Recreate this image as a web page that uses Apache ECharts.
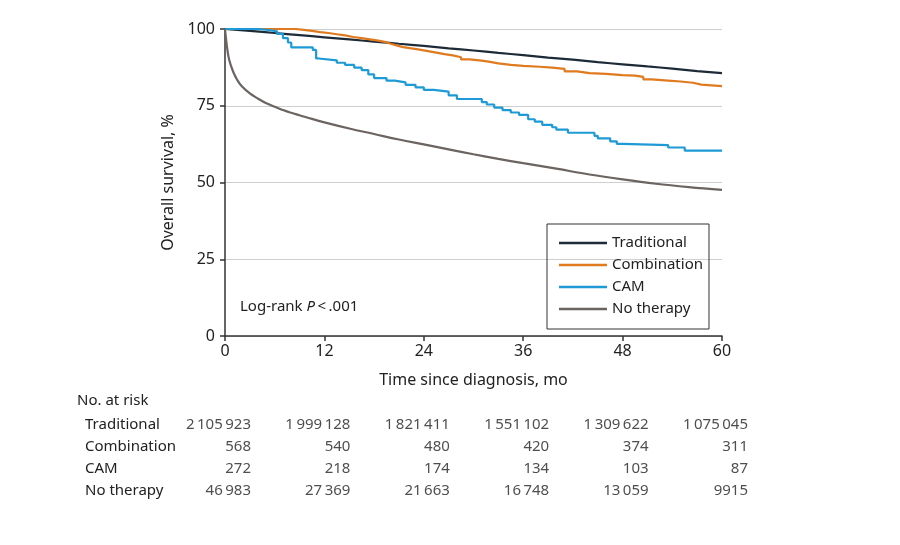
<!DOCTYPE html>
<html>
<head>
<meta charset="utf-8">
<script src="https://cdn.jsdelivr.net/npm/echarts@6/dist/echarts.min.js"></script>
<style>
  html, body { margin: 0; padding: 0; background: #fff; }
  #chart { width: 900px; height: 545px; }
</style>
</head>
<body>
<div id="chart"></div>
<script>
// survival curves, [month, percent]
const traditional = [[0,100],[3,99.4],[6,98.7],[9,98.0],[12,97.3],[15,96.6],[18,95.9],[21,95.2],[24,94.5],[27,93.7],[30,93.0],[33,92.2],[36,91.5],[39,90.7],[42,90.0],[45,89.2],[48,88.5],[51,87.8],[54,87.1],[57,86.3],[60,85.6]]
const combination = [[0,100],[7.5,100],[8.5,99.7],[9.5,99.4],[10.5,99],[11.5,98.7],[12.5,98.3],[13.5,97.9],[14.5,97.4],[15.5,97],[16.5,96.6],[17.5,96.2],[18.5,95.8],[19.3,95.2],[20,94.6],[20.8,94.1],[21.5,93.7],[22.5,93.3],[23.5,92.8],[24.5,92.3],[25.5,91.8],[26.5,91.4],[27.5,90.8],[28.5,90.1],[29.5,89.7],[31,89.3],[32,88.8],[33,88.3],[34.5,88],[36,87.7],[38,87.4],[39.5,87],[41,86.2],[42.5,85.6],[44,85.4],[46,85],[48,84.8],[49.5,84.4],[50.5,83.6],[51.5,83.2],[53.5,82.9],[55,82.5],[56.5,81.9],[57.5,81.4],[60,81.2]]
const cam = [[0,100],[4,99.6],[5.5,99.2],[6.3,98.4],[7,97],[7.6,95.6],[8,94],[10.6,93.2],[11,90.4],[11.3,89.8],[13.5,89],[14.5,88.3],[15.6,87.4],[16.5,86.6],[17.3,85.2],[18,84],[19.5,83.2],[20.5,82.6],[21.8,81.8],[23,81],[24,80.2],[25.2,79.6],[27,78.4],[28,77.2],[31,76.2],[31.6,75.4],[32.5,74.4],[33.5,73.6],[34.5,72.8],[35.5,72],[36.6,70.6],[37.4,69.8],[38.3,68.8],[39.5,68],[40,67.2],[41.4,66.2],[44.6,65.2],[45,64.4],[46.5,63.4],[47.3,62.6],[48,62.2],[53.5,61.4],[55.5,60.4],[60,60.4]]
const noTherapy = [[0,100],[0.25,94],[0.5,90],[1,86],[1.5,83.3],[2,81.4],[3,79],[4,77.3],[5,75.8],[6,74.7],[7,73.6],[8,72.7],[9,71.9],[10,71.1],[12,69.6],[15,67.6],[18,65.8],[21,64.0],[24,62.4],[27,60.8],[30,59.2],[33,57.7],[36,56.3],[40,54.5],[44,52.6],[48,51.0],[52,49.6],[56,48.5],[60,47.6]]

const groups = ['Traditional', 'Combination', 'CAM', 'No therapy']
const riskTimes = [0, 12, 24, 36, 48, 60]
const atRisk = [
  ['2\u2009105\u2009923', '1\u2009999\u2009128', '1\u2009821\u2009411', '1\u2009551\u2009102', '1\u2009309\u2009622', '1\u2009075\u2009045'],
  ['568', '540', '480', '420', '374', '311'],
  ['272', '218', '174', '134', '103', '87'],
  ['46\u2009983', '27\u2009369', '21\u2009663', '16\u2009748', '13\u2009059', '9915']
]

const colors = ['#1d2a38', '#e07a1f', '#1e9ad6', '#6b6460']
const font = 'Noto Sans'
const txt = '#222'

const riskData = []
atRisk.forEach((row, r) => row.forEach((v, c) => riskData.push([riskTimes[c], groups[r], v])))

const lineSeries = (name, data, step, smooth) => ({
  name, type: 'line', data, step, smooth, showSymbol: false, symbol: 'none',
  lineStyle: { width: 2.2 }, z: 3
})

const option = {
  color: colors,
  animation: false,
  textStyle: { fontFamily: font, color: txt },
  grid: [
    { left: 225, right: 178, top: 29, bottom: 209 },
    { left: 225, right: 178, top: 414, height: 88 }
  ],
  legend: {
    orient: 'vertical', left: 547, top: 224,
    data: groups,
    icon: 'rect', itemWidth: 48, itemHeight: 2.5, itemGap: 6,
    padding: [11, 6, 12, 12],
    borderColor: '#333', borderWidth: 1,
    textStyle: { fontFamily: font, fontSize: 15, color: txt, lineHeight: 16 }
  },
  graphic: [
    { type: 'text', left: 240, top: 299, style: {
      text: '{a|Log-rank }{i|P}{a|\u2009<\u2009.001}',
      rich: {
        a: { fontFamily: font, fontSize: 15, fill: txt },
        i: { fontFamily: font, fontSize: 15, fill: txt, fontStyle: 'italic' }
      } } },
    { type: 'text', left: 77, top: 393, style: { text: 'No. at risk', fontFamily: font, fontSize: 15, fill: txt } }
  ],
  xAxis: [
    {
      type: 'value', min: 0, max: 60, interval: 12,
      name: 'Time since diagnosis, mo', nameLocation: 'middle', nameGap: 36,
      nameTextStyle: { fontFamily: font, fontSize: 16, color: txt },
      axisLine: { lineStyle: { color: '#333', width: 1.5 } },
      axisTick: { lineStyle: { color: '#333', width: 1.5 }, length: 5 },
      axisLabel: { fontFamily: font, fontSize: 16, color: txt, margin: 7 },
      splitLine: { show: false }
    },
    { gridIndex: 1, type: 'value', min: 0, max: 60, show: false }
  ],
  yAxis: [
    {
      type: 'value', min: 0, max: 100, interval: 25,
      name: 'Overall survival, %', nameLocation: 'middle', nameGap: 47,
      nameTextStyle: { fontFamily: font, fontSize: 16, color: txt },
      axisLine: { show: true, lineStyle: { color: '#333', width: 1.5 } },
      axisTick: { show: true, lineStyle: { color: '#333', width: 1.5 }, length: 5 },
      axisLabel: { fontFamily: font, fontSize: 16, color: txt, margin: 10 },
      splitLine: { lineStyle: { color: '#cfcfcf', width: 1.2 } }
    },
    {
      gridIndex: 1, type: 'category', data: groups, inverse: true,
      axisLine: { show: false }, axisTick: { show: false },
      axisLabel: { align: 'left', margin: 140, fontFamily: font, fontSize: 15, color: txt }
    }
  ],
  series: [
    lineSeries('Traditional', traditional, false, true),
    lineSeries('Combination', combination, 'end', false),
    lineSeries('CAM', cam, 'end', false),
    lineSeries('No therapy', noTherapy, false, 0.4),
    {
      type: 'scatter', xAxisIndex: 1, yAxisIndex: 1, data: riskData,
      symbolSize: 1, itemStyle: { color: 'rgba(0,0,0,0)' }, silent: true,
      label: {
        show: true, position: 'inside', align: 'right', offset: [26, 0],
        formatter: p => p.value[2],
        fontFamily: font, fontSize: 15, color: txt
      }
    }
  ]
}

const chart = echarts.init(document.getElementById('chart'))
chart.setOption(option)
</script>
</body>
</html>
